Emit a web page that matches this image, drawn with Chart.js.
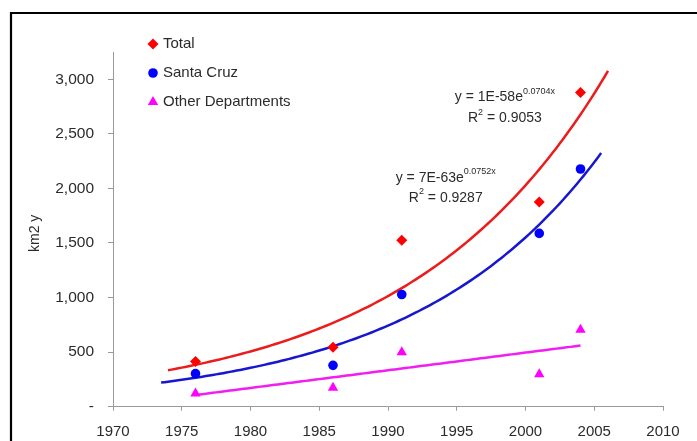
<!DOCTYPE html>
<html>
<head>
<meta charset="utf-8">
<title>km2 y</title>
<script src="https://cdn.jsdelivr.net/npm/chart.js@4.4.0/dist/chart.umd.min.js"></script>
<style>
  html, body { margin: 0; padding: 0; background: #fff; }
  #wrap { width: 697px; height: 441px; position: relative; }
</style>
</head>
<body>
<div id="wrap"><canvas id="chart"></canvas></div>
<script>
// values
const years = [1976, 1986, 1991, 2001, 2004];
const totalArea = [415, 545, 1525, 1875, 2880];
const santaCruz = [303, 379, 1028, 1588, 2178];
const otherDepts = [122, 173, 500, 297, 706];

const seriesNames = ['Total', 'Santa Cruz', 'Other Departments'];
const xTicks = [1970, 1975, 1980, 1985, 1990, 1995, 2000, 2005, 2010];
const yTicks = [0, 500, 1000, 1500, 2000, 2500, 3000];

// trendline spans (Excel forecast backward / forward)
const totalFitSpan = [1974, 2006];
const santaCruzFitSpan = [1973.5, 2005.5];
const otherFitSpan = [1976, 2004];

const totalEq = ['y = 1E-58e', '0.0704x', 'R', ' = 0.9053'];
const santaCruzEq = ['y = 7E-63e', '0.0752x', 'R', ' = 0.9287'];

const FONT = '"Liberation Sans", Arial, sans-serif';
const TEXT = '#2b2b2b';

const toPoints = (xs, ys) => xs.map((x, i) => ({ x: x, y: ys[i] }));

// least squares fits, like the spreadsheet trendlines
function expFit(xs, ys) {
  const n = xs.length;
  const ly = ys.map(v => Math.log(v));
  const mx = xs.reduce((a, b) => a + b, 0) / n;
  const my = ly.reduce((a, b) => a + b, 0) / n;
  let sxy = 0, sxx = 0;
  xs.forEach((x, i) => { sxy += (x - mx) * (ly[i] - my); sxx += (x - mx) * (x - mx); });
  const b = sxy / sxx;
  return x => Math.exp(my + b * (x - mx));
}
function linFit(xs, ys) {
  const n = xs.length;
  const mx = xs.reduce((a, b) => a + b, 0) / n;
  const my = ys.reduce((a, b) => a + b, 0) / n;
  let sxy = 0, sxx = 0;
  xs.forEach((x, i) => { sxy += (x - mx) * (ys[i] - my); sxx += (x - mx) * (x - mx); });
  const b = sxy / sxx;
  return x => my + b * (x - mx);
}
function trend(fn, span) {
  const pts = [];
  for (let x = span[0]; x <= span[1] + 1e-9; x += 0.25) pts.push({ x: x, y: fn(x) });
  return pts;
}

const markerStyle = [
  { color: '#ff0000', shape: 'rectRot', r: 5.5 },
  { color: '#0000ff', shape: 'circle', r: 4.8 },
  { color: '#ff00ff', shape: 'triangle', r: 6 }
];

function pointSet(label, data, m) {
  return {
    type: 'scatter', label: label, data: data,
    pointStyle: m.shape, pointRadius: m.r, pointHoverRadius: m.r,
    backgroundColor: m.color, borderColor: m.color, borderWidth: 0, showLine: false
  };
}
function lineSet(data, color) {
  return {
    type: 'line', label: '', data: data, borderColor: color, borderWidth: 2.5,
    pointRadius: 0, tension: 0, fill: false
  };
}

function drawEquation(ctx, scales, eq, cx, cy, cy2) {
  const x = scales.x.getPixelForValue(cx);
  const y1 = scales.y.getPixelForValue(cy);
  const y2 = scales.y.getPixelForValue(cy2);
  const big = '14px ' + FONT, small = '9px ' + FONT;
  ctx.fillStyle = TEXT;
  ctx.textBaseline = 'middle';
  ctx.textAlign = 'left';
  ctx.font = big; const w1 = ctx.measureText(eq[0]).width;
  ctx.font = small; const w2 = ctx.measureText(eq[1]).width;
  let sx = x - (w1 + w2) / 2;
  ctx.font = big; ctx.fillText(eq[0], sx, y1);
  ctx.font = small; ctx.fillText(eq[1], sx + w1, y1 - 6);
  ctx.font = big; const r1 = ctx.measureText(eq[2]).width;
  const r3 = ctx.measureText(eq[3]).width;
  ctx.font = small; const r2 = ctx.measureText('2').width;
  sx = x - (r1 + r2 + r3) / 2;
  ctx.font = big; ctx.fillText(eq[2], sx, y2);
  ctx.font = small; ctx.fillText('2', sx + r1, y2 - 6);
  ctx.font = big; ctx.fillText(eq[3], sx + r1 + r2, y2);
}

const decorations = {
  id: 'decorations',
  beforeDraw(chart) {
    const ctx = chart.ctx;
    ctx.save();
    // outer frame
    ctx.strokeStyle = '#000';
    ctx.lineWidth = 2.2;
    ctx.beginPath();
    ctx.moveTo(11, 460);
    ctx.lineTo(11, 13);
    ctx.lineTo(720, 13);
    ctx.stroke();
    ctx.restore();
  },
  afterDraw(chart) {
    const ctx = chart.ctx;
    const area = chart.chartArea;
    ctx.save();
    // axis title
    ctx.translate(35, (area.top + area.bottom) / 2 + 4);
    ctx.rotate(-Math.PI / 2);
    ctx.font = '14px ' + FONT;
    ctx.fillStyle = TEXT;
    ctx.textAlign = 'center';
    ctx.textBaseline = 'middle';
    ctx.fillText('km2 y', 0, 0);
    ctx.restore();

    // legend
    ctx.save();
    seriesNames.forEach((name, i) => {
      const m = markerStyle[i];
      const ly = 44 + i * 29;
      ctx.fillStyle = m.color;
      ctx.strokeStyle = m.color;
      ctx.lineWidth = 0;
      if (Chart.helpers && Chart.helpers.drawPoint) {
        Chart.helpers.drawPoint(ctx, { pointStyle: m.shape, radius: m.r, borderWidth: 0, rotation: 0 }, area.left + 40, ly);
      }
      ctx.fillStyle = TEXT;
      ctx.font = '15px ' + FONT;
      ctx.textAlign = 'left';
      ctx.textBaseline = 'middle';
      ctx.fillText(name, area.left + 50, ly);
    });
    ctx.restore();

    // trendline equations
    ctx.save();
    drawEquation(ctx, chart.scales, totalEq, 1998.5, 2832, 2640);
    drawEquation(ctx, chart.scales, santaCruzEq, 1994.2, 2098, 1915);
    ctx.restore();
  }
};

new Chart(document.getElementById('chart'), {
  data: {
    datasets: [
      pointSet(seriesNames[0], toPoints(years, totalArea), markerStyle[0]),
      pointSet(seriesNames[1], toPoints(years, santaCruz), markerStyle[1]),
      pointSet(seriesNames[2], toPoints(years, otherDepts), markerStyle[2]),
      lineSet(trend(expFit(years, totalArea), totalFitSpan), '#ec1c1c'),
      lineSet(trend(expFit(years, santaCruz), santaCruzFitSpan), '#1717d0'),
      lineSet(trend(linFit(years, otherDepts), otherFitSpan), '#f01ef0')
    ]
  },
  options: {
    responsive: true,
    maintainAspectRatio: false,
    animation: false,
    layout: { padding: { top: 52, right: 34, left: 0, bottom: 0 } },
    plugins: { legend: { display: false }, tooltip: { enabled: false } },
    scales: {
      x: {
        type: 'linear', min: xTicks[0], max: xTicks[xTicks.length - 1],
        afterBuildTicks: s => { s.ticks = xTicks.map(v => ({ value: v })); },
        afterFit: s => { s.height = 34.3; },
        grid: { drawOnChartArea: false, drawTicks: true, tickLength: 4, color: '#9a9a9a' },
        border: { color: '#9a9a9a', width: 1 },
        ticks: { color: TEXT, font: { family: FONT, size: 15 }, padding: 12, maxRotation: 0,
                 callback: v => String(v) }
      },
      y: {
        type: 'linear', min: 0, max: 3250,
        afterBuildTicks: s => { s.ticks = yTicks.map(v => ({ value: v })); },
        afterFit: s => { s.width = 113; },
        grid: { drawOnChartArea: false, drawTicks: true, tickLength: 5, color: '#9a9a9a' },
        border: { color: '#9a9a9a', width: 1 },
        ticks: { color: TEXT, font: { family: FONT, size: 15.5 }, padding: 14,
                 callback: v => v === 0 ? '-' : v.toLocaleString('en-US') }
      }
    }
  },
  plugins: [decorations]
});
</script>
</body>
</html>
